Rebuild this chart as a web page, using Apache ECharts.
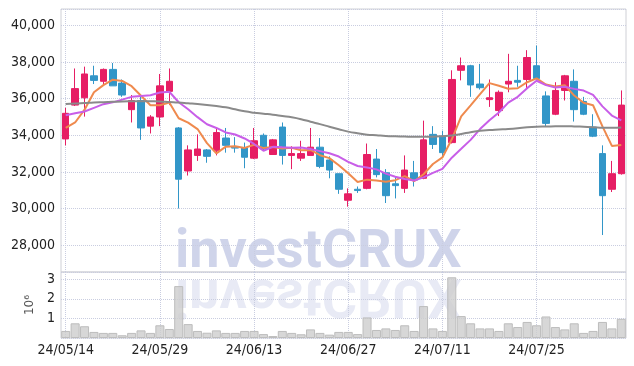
<!DOCTYPE html>
<html>
<head>
<meta charset="utf-8">
<script src="https://cdn.jsdelivr.net/npm/echarts@6/dist/echarts.min.js"></script>
<style>
html, body { margin: 0; padding: 0; background: #fff; }
#chart { width: 634px; height: 366px; }
</style>
</head>
<body>
<div id="chart"></div>
<script>
// trading days 24/05/14 ~ 24/08/07
var dates = [
  '24/05/14','24/05/16','24/05/17','24/05/20','24/05/21','24/05/22','24/05/23','24/05/24','24/05/27','24/05/28',
  '24/05/29','24/05/30','24/05/31','24/06/03','24/06/04','24/06/05','24/06/07','24/06/10','24/06/11','24/06/12',
  '24/06/13','24/06/14','24/06/17','24/06/18','24/06/19','24/06/20','24/06/21','24/06/24','24/06/25','24/06/26',
  '24/06/27','24/06/28','24/07/01','24/07/02','24/07/03','24/07/04','24/07/05','24/07/08','24/07/09','24/07/10',
  '24/07/11','24/07/12','24/07/15','24/07/16','24/07/17','24/07/18','24/07/19','24/07/22','24/07/23','24/07/24',
  '24/07/25','24/07/26','24/07/29','24/07/30','24/07/31','24/08/01','24/08/02','24/08/05','24/08/06','24/08/07'
];

var opens = [
  33800,35650,36050,37250,36950,37600,36850,35400,35900,34500,
  35000,36400,34400,32050,32900,33200,33150,33850,33350,33300,
  32750,34000,32950,34450,32900,32750,32900,33350,32650,31900,
  30450,31050,31100,32700,31950,31350,31100,31950,31650,34050,
  33950,33600,37550,37800,36800,35950,35350,36800,37000,37050,
  37800,36150,35150,36450,36950,35850,34450,33000,31050,31900
];
var closes = [
  35200,36550,37350,37000,37600,36700,36200,35900,34400,35000,
  36700,36950,31600,33200,33250,32850,34150,33450,33300,32800,
  33700,33250,33750,32900,33000,33000,33350,32300,32100,31050,
  30800,30980,32950,31850,30700,31250,32100,31550,33750,33500,
  33050,37050,37800,36750,36600,36050,36350,36950,36900,38250,
  37100,34650,36450,37250,35400,35150,33950,30700,31900,35650
];
var lows = [
  33450,35600,35020,36800,36700,36700,36100,34700,33750,34100,
  34500,35650,30000,31800,32600,32500,32900,33050,33050,32200,
  32700,33150,32950,32400,32150,32600,32900,32200,31650,30800,
  30100,30850,31050,31700,30300,30550,30850,31200,31600,33250,
  32850,33550,37000,36100,36500,35550,35050,36350,36650,36550,
  37050,34500,35100,35900,34750,35100,33900,28550,30900,31850
];
var highs = [
  35500,37650,37750,37800,37650,37950,37050,36200,36150,35100,
  37350,37650,34450,33450,34050,33250,34450,34400,33900,33600,
  34400,34100,33800,34700,33400,33700,34400,33850,32850,31900,
  31100,31200,33550,33250,32150,31750,32900,32600,34800,34500,
  34250,37550,38250,37850,37900,37050,36450,38450,37800,38650,
  38900,36400,36900,37300,37600,36100,35150,33450,32600,36450
];

var ma5 = [
  34400,34700,35400,36350,36740,37040,36970,36680,36160,35640,
  35640,35790,34930,34690,34340,33570,33010,33380,33400,33310,
  33480,33300,33360,33280,33320,33180,33200,32910,32750,32360,
  31920,31446,31576,31526,31456,31546,31770,31490,31870,32430,
  32790,33780,35030,35630,36250,36850,36710,36540,36570,36900,
  37110,36770,36670,36740,36170,35780,35640,34490,33420,33470
];
var ma10 = [
  35100,35200,35300,35500,35700,35800,35950,36100,36150,36190,
  36340,36380,35805,35425,34990,34605,34400,34155,34045,33825,
  33525,33155,33370,33340,33315,33330,33250,33135,33015,32840,
  32550,32323,32243,32138,31908,31733,31608,31533,31698,31943,
  32168,32775,33260,33750,34340,34820,35245,35785,36100,36575,
  36980,36740,36605,36655,36535,36445,36205,35580,35080,34820
];
var maLong = [
  35710,35730,35760,35790,35810,35830,35850,35860,35865,35860,
  35850,35820,35790,35750,35710,35660,35600,35530,35420,35310,
  35235,35180,35125,35055,34985,34880,34740,34610,34470,34330,
  34200,34110,34035,34000,33965,33945,33930,33920,33920,33925,
  33950,33990,34070,34170,34250,34290,34320,34350,34390,34440,
  34470,34480,34490,34495,34485,34465,34445,34415,34405,34420
];

var volumes = [
  360000,750000,600000,310000,260000,260000,140000,260000,390000,260000,
  650000,460000,2650000,710000,360000,270000,390000,260000,260000,360000,
  360000,200000,100000,360000,260000,190000,440000,260000,170000,310000,
  310000,200000,1050000,410000,490000,410000,650000,360000,1630000,490000,
  360000,3100000,1120000,750000,490000,490000,360000,750000,560000,820000,
  650000,1100000,560000,440000,750000,260000,360000,820000,490000,980000
];

var candleData = dates.map(function (d, i) {
  return [opens[i], closes[i], lows[i], highs[i]];
});

var labelFont = '"DejaVu Sans Condensed", Roboto, sans-serif';
var markFont = 'bold 54px Roboto, "DejaVu Sans", sans-serif';
var gridLineColor = '#c9cde0';
var borderColor = '#cfd0d6';

var dom = document.getElementById('chart');
var myChart = echarts.init(dom);
myChart.setOption({
  animation: false,
  backgroundColor: '#fff',
  grid: [
    { left: 61, right: 8, top: 9, height: 263, show: true, borderColor: borderColor, borderWidth: 1 },
    { left: 61, right: 8, top: 272, height: 66, show: true, borderColor: borderColor, borderWidth: 1 }
  ],
  graphic: [
    {
      type: 'text', x: 175, y: 253, z: 0,
      style: { text: 'investCRUX', font: markFont, fill: 'rgba(110,125,190,0.33)', verticalAlign: 'middle' }
    },
    {
      type: 'text', x: 175, y: 293, scaleY: -1, z: 0,
      style: { text: 'investCRUX', font: markFont, fill: 'rgba(110,125,190,0.16)', verticalAlign: 'middle' }
    }
  ],
  xAxis: [
    {
      type: 'category', gridIndex: 0, data: dates, boundaryGap: true,
      axisLine: { show: false }, axisTick: { show: false }, axisLabel: { show: false },
      splitLine: { show: true, interval: 9, alignWithLabel: true, lineStyle: { color: gridLineColor, type: 'dotted' } }
    },
    {
      type: 'category', gridIndex: 1, data: dates, boundaryGap: true,
      axisLine: { show: false }, axisTick: { show: false },
      axisLabel: { interval: 9, color: '#222', fontSize: 14, fontFamily: labelFont, margin: 5 },
      splitLine: { show: true, interval: 9, alignWithLabel: true, lineStyle: { color: gridLineColor, type: 'dotted' } }
    }
  ],
  yAxis: [
    {
      type: 'value', gridIndex: 0, min: 26530, max: 40900, splitNumber: 7, scale: true,
      axisLine: { show: false }, axisTick: { show: false },
      axisLabel: { color: '#222', fontSize: 14, fontFamily: labelFont, margin: 6, showMinLabel: false, showMaxLabel: false },
      splitLine: { lineStyle: { color: gridLineColor, type: 'dotted' } }
    },
    {
      type: 'value', gridIndex: 1, min: 0, max: 3370000, interval: 1000000,
      axisLine: { show: false }, axisTick: { show: false },
      axisLabel: {
        color: '#222', fontSize: 14, fontFamily: labelFont, margin: 6, showMinLabel: false, showMaxLabel: false,
        formatter: function (v) { return v / 1000000; }
      },
      splitLine: { lineStyle: { color: gridLineColor, type: 'dotted' } },
      name: '10\u2076', nameLocation: 'middle', nameRotate: 90, nameGap: 20,
      nameTextStyle: { color: '#555', fontSize: 12, fontFamily: 'DejaVu Sans' }
    }
  ],
  series: [
    {
      name: 'price', type: 'candlestick', xAxisIndex: 0, yAxisIndex: 0,
      data: candleData, barWidth: 7,
      itemStyle: {
        color: '#e61e64', color0: '#3296c8',
        borderColor: '#e61e64', borderColor0: '#3296c8', borderWidth: 1
      }
    },
    {
      name: 'MA5', type: 'line', data: ma5, xAxisIndex: 0, yAxisIndex: 0,
      symbol: 'none', lineStyle: { color: '#ef8a4e', width: 2 }, z: 3
    },
    {
      name: 'MA10', type: 'line', data: ma10, xAxisIndex: 0, yAxisIndex: 0,
      symbol: 'none', lineStyle: { color: '#c85ee8', width: 2 }, z: 3
    },
    {
      name: 'MA60', type: 'line', data: maLong, xAxisIndex: 0, yAxisIndex: 0,
      symbol: 'none', smooth: true, lineStyle: { color: '#8a8a8a', width: 2 }, z: 3
    },
    {
      name: 'volume', type: 'bar', data: volumes, xAxisIndex: 1, yAxisIndex: 1,
      barCategoryGap: '4%',
      itemStyle: { color: 'rgba(205,205,205,0.8)', borderColor: '#bdbdbd', borderWidth: 1 }
    }
  ]
});
window.addEventListener('resize', function () {
  myChart.resize();
});
</script>
</body>
</html>
